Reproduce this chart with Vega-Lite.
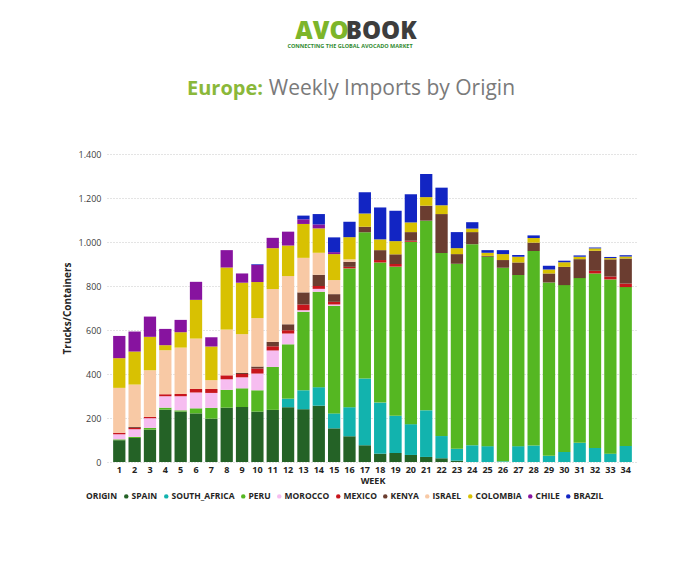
{
  "$schema": "https://vega.github.io/schema/vega-lite/v6.json",
  "background": "white",
  "padding": {"left": 62, "top": 19, "right": 20, "bottom": 10},
  "title": {
    "text": "AVO\u00a0\u00a0\u00a0\u00a0\u00a0\u00a0\u00a0\u00a0\u00a0\u200b",
    "subtitle": "\u200b\u00a0\u00a0\u00a0\u00a0\u00a0\u00a0\u00a0\u00a0\u00a0\u00a0BOOK",
    "anchor": "middle",
    "font": "Open Sans",
    "fontSize": 24,
    "fontWeight": 800,
    "color": "#7DB52A",
    "subtitleFont": "Open Sans",
    "subtitleFontSize": 24,
    "subtitleFontWeight": 800,
    "subtitleColor": "#3d3d3d",
    "subtitlePadding": -24,
    "offset": 0
  },
  "vconcat": [
    {
      "title": {
        "text": "CONNECTING THE GLOBAL AVOCADO MARKET",
        "anchor": "middle",
        "font": "Open Sans",
        "fontSize": 5.5,
        "fontWeight": "bold",
        "color": "#2f8a2f",
        "offset": 29
      },
      "vconcat": [
        {
          "title": {
            "text": "Europe:",
            "subtitle": "\u200b\u00a0\u00a0\u00a0\u00a0\u00a0\u00a0\u00a0\u00a0\u00a0\u00a0\u00a0\u00a0\u00a0\u00a0\u00a0Weekly Imports by Origin",
            "anchor": "start",
            "frame": "group",
            "dx": 80,
            "font": "Open Sans",
            "fontSize": 20,
            "fontWeight": "bold",
            "color": "#8AB83A",
            "subtitleFont": "Open Sans",
            "subtitleFontSize": 21,
            "subtitleColor": "#7a7a7a",
            "subtitlePadding": -21,
            "offset": 50
          },
          "width": 531,
          "height": 308,
          "data": {
            "values": [
              {"week": 1, "SPAIN": 99, "PERU": 4, "MOROCCO": 23, "MEXICO": 7, "ISRAEL": 204, "COLOMBIA": 135, "CHILE": 101},
              {"week": 2, "SPAIN": 109, "PERU": 5, "MOROCCO": 35, "MEXICO": 6, "KENYA": 4, "ISRAEL": 193, "COLOMBIA": 150, "CHILE": 91},
              {"week": 3, "SPAIN": 147, "PERU": 8, "MOROCCO": 44, "MEXICO": 6, "ISRAEL": 212, "COLOMBIA": 152, "CHILE": 92},
              {"week": 4, "SPAIN": 238, "PERU": 9, "MOROCCO": 52, "MEXICO": 9, "ISRAEL": 200, "COLOMBIA": 23, "CHILE": 74},
              {"week": 5, "SPAIN": 229, "PERU": 6, "MOROCCO": 64, "MEXICO": 10, "ISRAEL": 211, "COLOMBIA": 70, "CHILE": 56},
              {"week": 6, "SPAIN": 221, "PERU": 23, "MOROCCO": 72, "MEXICO": 16, "ISRAEL": 229, "COLOMBIA": 176, "CHILE": 82},
              {"week": 7, "SPAIN": 197, "PERU": 49, "MOROCCO": 68, "MEXICO": 18, "ISRAEL": 40, "COLOMBIA": 153, "CHILE": 42},
              {"week": 8, "SPAIN": 247, "PERU": 81, "MOROCCO": 48, "MEXICO": 18, "ISRAEL": 208, "COLOMBIA": 282, "CHILE": 79},
              {"week": 9, "SPAIN": 250, "PERU": 85, "MOROCCO": 50, "MEXICO": 15, "KENYA": 5, "ISRAEL": 176, "COLOMBIA": 234, "CHILE": 42},
              {"week": 10, "SPAIN": 229, "PERU": 97, "MOROCCO": 76, "MEXICO": 23, "KENYA": 9, "ISRAEL": 220, "COLOMBIA": 164, "CHILE": 78, "BRAZIL": 3},
              {"week": 11, "SPAIN": 237, "PERU": 195, "MOROCCO": 75, "MEXICO": 19, "KENYA": 20, "ISRAEL": 240, "COLOMBIA": 186, "CHILE": 47},
              {"week": 12, "SPAIN": 249, "SOUTH_AFRICA": 39, "PERU": 247, "MOROCCO": 49, "MEXICO": 15, "KENYA": 27, "ISRAEL": 219, "COLOMBIA": 139, "CHILE": 63},
              {"week": 13, "SPAIN": 240, "SOUTH_AFRICA": 86, "PERU": 357, "MOROCCO": 7, "MEXICO": 26, "KENYA": 55, "ISRAEL": 157, "COLOMBIA": 154, "CHILE": 21, "BRAZIL": 17},
              {"week": 14, "SPAIN": 256, "SOUTH_AFRICA": 84, "PERU": 434, "MOROCCO": 13, "MEXICO": 13, "KENYA": 51, "ISRAEL": 100, "COLOMBIA": 111, "CHILE": 18, "BRAZIL": 47},
              {"week": 15, "SPAIN": 153, "SOUTH_AFRICA": 68, "PERU": 489, "MOROCCO": 6, "MEXICO": 12, "KENYA": 35, "ISRAEL": 64, "COLOMBIA": 118, "CHILE": 9, "BRAZIL": 67},
              {"week": 16, "SPAIN": 117, "SOUTH_AFRICA": 132, "PERU": 631, "MEXICO": 7, "KENYA": 23, "ISRAEL": 11, "COLOMBIA": 101, "BRAZIL": 70},
              {"week": 17, "SPAIN": 76, "SOUTH_AFRICA": 303, "PERU": 665, "KENYA": 25, "COLOMBIA": 61, "BRAZIL": 96},
              {"week": 18, "SPAIN": 38, "SOUTH_AFRICA": 232, "PERU": 637, "MEXICO": 11, "KENYA": 45, "COLOMBIA": 49, "BRAZIL": 145},
              {"week": 19, "SPAIN": 41, "SOUTH_AFRICA": 169, "PERU": 678, "MEXICO": 12, "KENYA": 44, "COLOMBIA": 60, "BRAZIL": 138},
              {"week": 20, "SPAIN": 32, "SOUTH_AFRICA": 140, "PERU": 829, "MEXICO": 5, "KENYA": 39, "COLOMBIA": 44, "BRAZIL": 128},
              {"week": 21, "SPAIN": 23, "SOUTH_AFRICA": 212, "PERU": 862, "KENYA": 68, "COLOMBIA": 39, "BRAZIL": 105},
              {"week": 22, "SPAIN": 17, "SOUTH_AFRICA": 101, "PERU": 832, "KENYA": 177, "COLOMBIA": 40, "BRAZIL": 80},
              {"week": 23, "SPAIN": 6, "SOUTH_AFRICA": 54, "PERU": 841, "KENYA": 44, "COLOMBIA": 27, "BRAZIL": 73},
              {"week": 24, "SOUTH_AFRICA": 76, "PERU": 914, "KENYA": 55, "COLOMBIA": 16, "BRAZIL": 29},
              {"week": 25, "SOUTH_AFRICA": 72, "PERU": 861, "KENYA": 4, "COLOMBIA": 14, "BRAZIL": 12},
              {"week": 26, "SOUTH_AFRICA": 3, "PERU": 880, "KENYA": 35, "COLOMBIA": 27, "BRAZIL": 18},
              {"week": 27, "SOUTH_AFRICA": 72, "PERU": 778, "KENYA": 57, "COLOMBIA": 26, "BRAZIL": 8},
              {"week": 28, "SOUTH_AFRICA": 75, "PERU": 884, "KENYA": 38, "COLOMBIA": 21, "BRAZIL": 12},
              {"week": 29, "SOUTH_AFRICA": 28, "PERU": 788, "KENYA": 41, "COLOMBIA": 18, "BRAZIL": 17},
              {"week": 30, "SOUTH_AFRICA": 46, "PERU": 758, "KENYA": 83, "COLOMBIA": 21, "BRAZIL": 7},
              {"week": 31, "SOUTH_AFRICA": 87, "PERU": 749, "KENYA": 86, "COLOMBIA": 11, "BRAZIL": 6},
              {"week": 32, "SOUTH_AFRICA": 64, "PERU": 793, "MEXICO": 12, "KENYA": 91, "COLOMBIA": 11, "BRAZIL": 4},
              {"week": 33, "SOUTH_AFRICA": 38, "PERU": 792, "MEXICO": 13, "KENYA": 78, "COLOMBIA": 6, "BRAZIL": 5},
              {"week": 34, "SOUTH_AFRICA": 73, "PERU": 722, "MEXICO": 16, "KENYA": 114, "COLOMBIA": 9, "BRAZIL": 6}
            ]
          },
          "transform": [
            {"fold": ["SPAIN", "SOUTH_AFRICA", "PERU", "MOROCCO", "MEXICO", "KENYA", "ISRAEL", "COLOMBIA", "CHILE", "BRAZIL"], "as": ["origin", "value"]},
            {"filter": "isValid(datum.value) && datum.value > 0"}
          ],
          "mark": {"type": "bar"},
          "encoding": {
            "x": {
              "field": "week",
              "type": "ordinal",
              "scale": {"paddingInner": 0.2, "paddingOuter": 0.4},
              "axis": {
                "title": "WEEK",
                "labelAngle": 0,
                "labelFont": "Open Sans",
                "labelFontSize": 9,
                "labelFontWeight": "bold",
                "labelColor": "#252423",
                "labelPadding": 3,
                "titleFont": "Open Sans",
                "titleFontSize": 9,
                "titleFontWeight": "bold",
                "titleColor": "#252423",
                "titlePadding": 2,
                "ticks": false,
                "domain": false
              }
            },
            "y": {
              "field": "value",
              "type": "quantitative",
              "stack": "zero",
              "scale": {"domain": [0, 1400]},
              "axis": {
                "title": "Trucks/Containers",
                "values": [0, 200, 400, 600, 800, 1000, 1200, 1400],
                "labelExpr": "replace(format(datum.value, ',d'), ',', '.')",
                "labelFont": "Open Sans",
                "labelFontSize": 9,
                "labelColor": "#404040",
                "labelPadding": 6,
                "titleFont": "Open Sans",
                "titleFontSize": 10,
                "titleFontWeight": "bold",
                "titleColor": "#252423",
                "titlePadding": 6,
                "ticks": false,
                "domain": false,
                "grid": true,
                "gridColor": "#c8c8c8",
                "gridDash": [1, 2],
                "gridWidth": 1
              }
            },
            "color": {
              "field": "origin",
              "type": "nominal",
              "scale": {
                "domain": ["SPAIN", "SOUTH_AFRICA", "PERU", "MOROCCO", "MEXICO", "KENYA", "ISRAEL", "COLOMBIA", "CHILE", "BRAZIL"],
                "range": ["#246226", "#12B3AE", "#55B722", "#F6BDF0", "#C8151C", "#6B3D30", "#F8C9A5", "#D8C102", "#87139F", "#1225C3"]
              },
              "legend": {
                "title": "ORIGIN",
                "orient": "none",
                "legendX": -21,
                "legendY": 338,
                "direction": "horizontal",
                "columns": 10,
                "titleOrient": "left",
                "symbolType": "circle",
                "symbolSize": 20,
                "labelFont": "Open Sans",
                "labelFontSize": 8.5,
                "labelFontWeight": "bold",
                "labelColor": "#252423",
                "labelOffset": 1,
                "columnPadding": 4,
                "titleFont": "Open Sans",
                "titleFontSize": 8.5,
                "titleFontWeight": "bold",
                "titleColor": "#252423",
                "titlePadding": 4
              }
            },
            "order": {"field": "origin", "sort": "descending"}
          }
        }
      ]
    }
  ],
  "config": {
    "view": {"stroke": null}
  }
}
